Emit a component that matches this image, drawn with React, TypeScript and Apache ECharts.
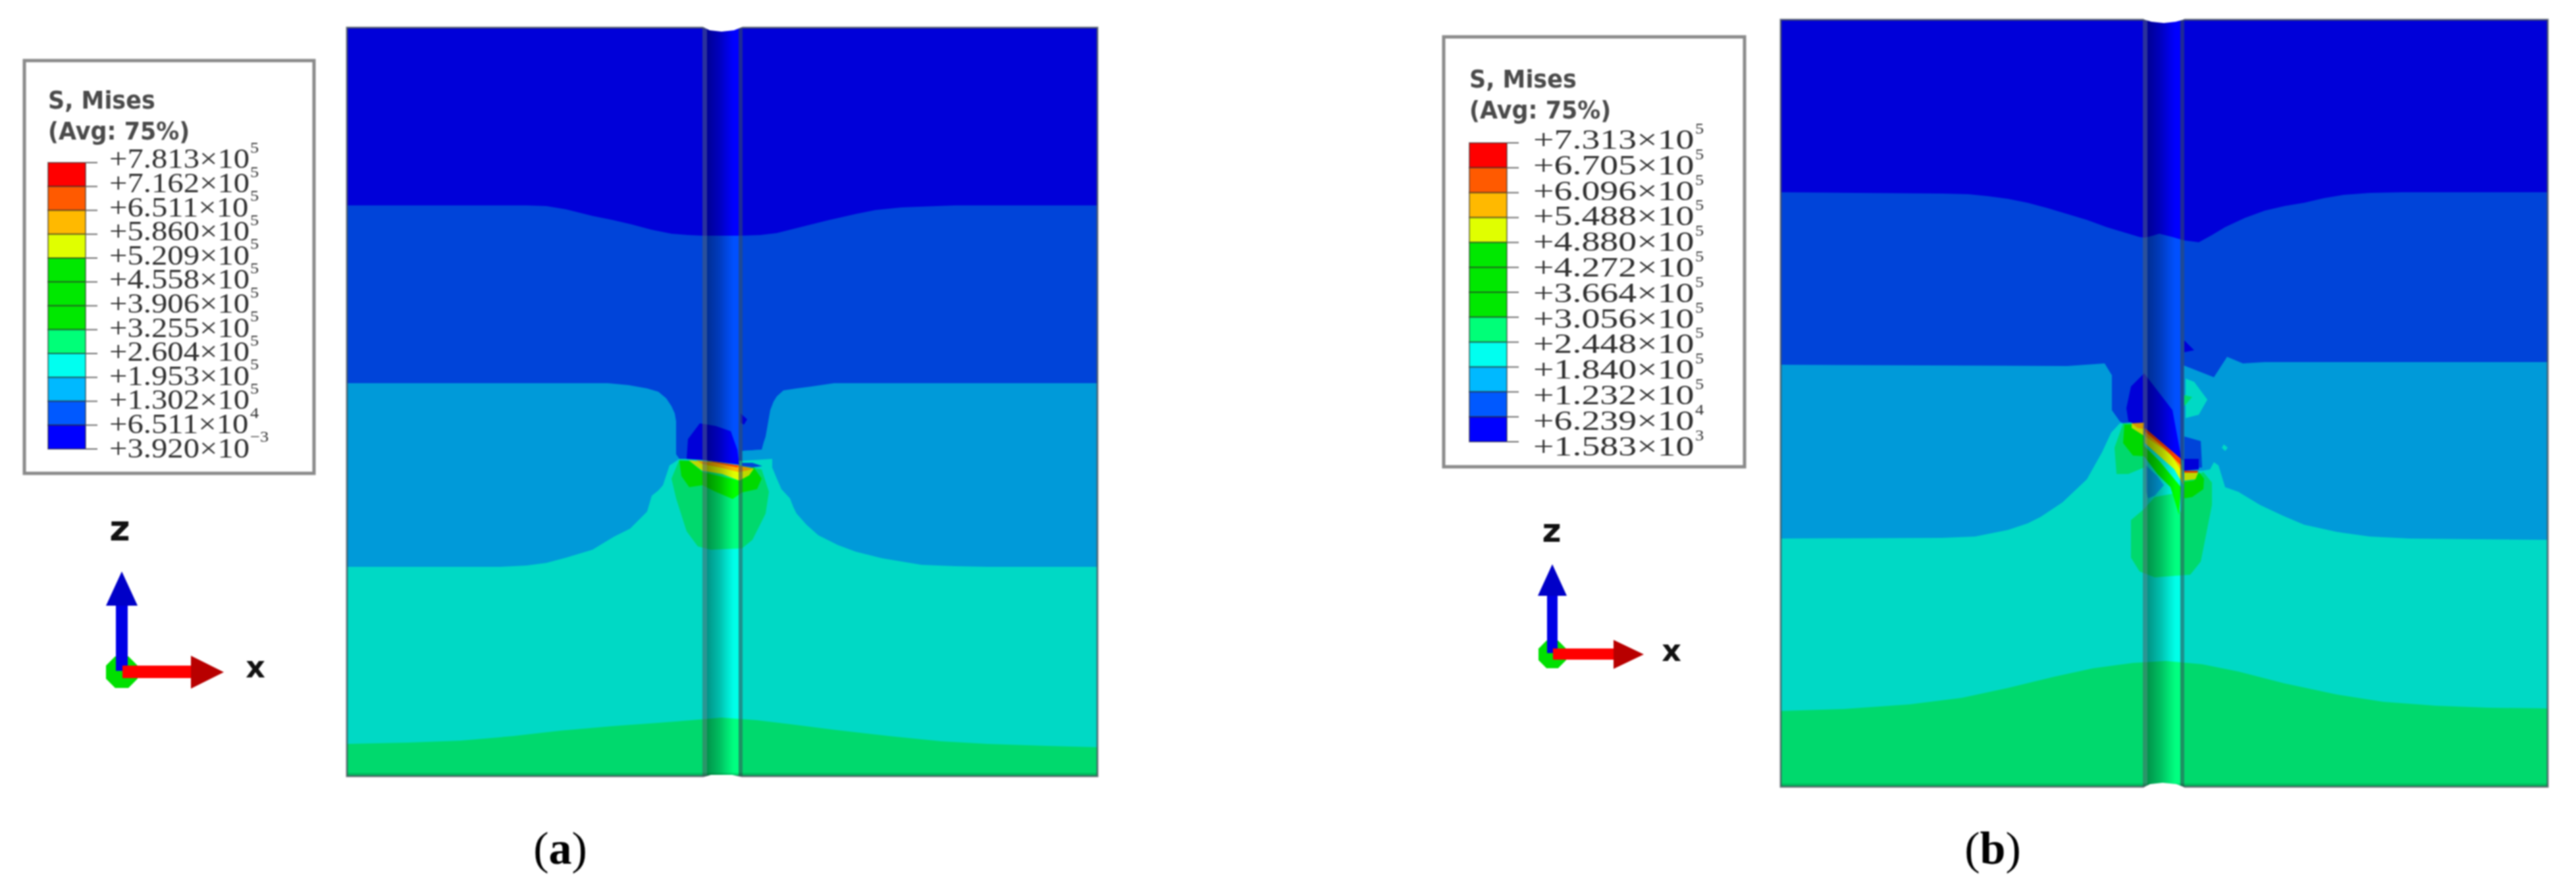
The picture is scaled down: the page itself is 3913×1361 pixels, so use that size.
import React, { useEffect, useRef } from "react";
import * as echarts from "echarts";

type P = [number, number];

// ---- legend data
const headerLines = ["S, Mises", "(Avg: 75%)"];
const mantissaA = ["+7.813", "+7.162", "+6.511", "+5.860", "+5.209", "+4.558", "+3.906", "+3.255", "+2.604", "+1.953", "+1.302", "+6.511", "+3.920"];
const exponentA = ["5", "5", "5", "5", "5", "5", "5", "5", "5", "5", "5", "4", "−3"];
const mantissaB = ["+7.313", "+6.705", "+6.096", "+5.488", "+4.880", "+4.272", "+3.664", "+3.056", "+2.448", "+1.840", "+1.232", "+6.239", "+1.583"];
const exponentB = ["5", "5", "5", "5", "5", "5", "5", "5", "5", "5", "5", "4", "3"];
const legendColors = ["#ff0000", "#ff5a00", "#ffb900", "#e0ff00", "#00e800", "#00e800", "#00e800", "#00ff78", "#00fff0", "#00b9ff", "#0059ff", "#0000ff"];

// ---- contour colours
const C1 = "#0000ff", C2 = "#0050ff", C3 = "#00b5ff", C4 = "#00ffe8", C5 = "#00ff80";
const GREEN = "#00ff00", YEL = "#e0ff00", ORG = "#ffb000", RED = "#ff4000", DBL = "#0000ff";

// ---- contour outlines, panel (a)
const a12: P[] = [[527, 312], [800, 312], [830, 313], [860, 318], [900, 328], [930, 334], [960, 341], [990, 349], [1020, 355], [1045, 357], [1067, 358], [1125, 358], [1155, 357], [1180, 354], [1200, 349], [1220, 344], [1260, 334], [1300, 325], [1330, 319], [1370, 315], [1450, 312], [1667, 312]];
const a23: P[] = [[527, 582], [923, 582], [955, 585], [983, 590], [1000, 595], [1012, 605], [1020, 617], [1025, 628], [1027, 640], [1027, 690], [1032, 697], [1127, 700], [1127, 685], [1157, 683], [1160, 672], [1163, 663], [1170, 623], [1175, 610], [1180, 602], [1190, 593], [1210, 590], [1233, 587], [1267, 582], [1667, 582]];
const a34: P[] = [[527, 861], [760, 861], [800, 859], [830, 855], [860, 847], [900, 835], [918, 824], [933, 815], [957, 803], [970, 790], [983, 777], [990, 753], [1000, 745], [1007, 737], [1012, 722], [1017, 707], [1032, 697], [1127, 700], [1173, 697], [1173, 710], [1180, 727], [1187, 743], [1200, 757], [1205, 770], [1210, 780], [1225, 797], [1243, 813], [1273, 828], [1300, 838], [1340, 848], [1400, 858], [1450, 860], [1500, 861], [1667, 861]];
const a45: P[] = [[527, 1130], [620, 1128], [700, 1125], [780, 1118], [850, 1110], [930, 1103], [1000, 1098], [1050, 1094], [1096, 1090], [1150, 1094], [1200, 1100], [1280, 1110], [1350, 1118], [1430, 1126], [1500, 1130], [1590, 1133], [1667, 1135]];
const aStrip: P[] = [[1127, 685], [1157, 683], [1173, 695], [1127, 694]];
const aLobe: P[] = [[1032, 698], [1020, 727], [1027, 757], [1043, 807], [1060, 830], [1080, 835], [1127, 833], [1143, 820], [1163, 780], [1168, 747], [1157, 713], [1143, 710]];
const aGreen: P[] = [[1032, 700], [1035, 723], [1047, 740], [1067, 737], [1087, 747], [1113, 758], [1127, 748], [1150, 743], [1157, 727], [1145, 710], [1123, 730], [1067, 717], [1047, 700]];
const aYellow: P[] = [[1046, 699], [1123, 708], [1145, 712], [1138, 722], [1123, 730], [1097, 720], [1067, 715], [1060, 710]];
const aOrange: P[] = [[1057, 699], [1123, 707], [1145, 712], [1133, 715], [1122, 717], [1093, 710], [1067, 705]];
const aRed: P[] = [[1070, 699], [1123, 707], [1120, 710], [1087, 703]];
const aBlue: P[] = [[1043, 697], [1045, 667], [1063, 643], [1087, 647], [1110, 655], [1120, 683], [1123, 706], [1070, 699]];
const aDot: P[] = [[1125, 628], [1135, 637], [1130, 645], [1125, 642]];
const aBlueStrip: P[] = [[1127, 703], [1143, 703], [1158, 708], [1143, 710], [1127, 708]];

// ---- contour outlines, panel (b)
const b12: P[] = [[2705, 292], [2950, 294], [2990, 295], [3020, 298], [3050, 302], [3080, 308], [3110, 316], [3140, 325], [3170, 334], [3200, 345], [3250, 360], [3258, 361], [3270, 358], [3280, 355], [3300, 360], [3317, 365], [3340, 368], [3360, 357], [3380, 345], [3410, 331], [3440, 320], [3470, 313], [3500, 308], [3530, 301], [3560, 296], [3600, 293], [3650, 292], [3870, 292]];
const b23: P[] = [[2705, 554], [3140, 556], [3197, 552], [3208, 570], [3208, 623], [3220, 640], [3317, 700], [3317, 555], [3363, 573], [3383, 542], [3407, 552], [3440, 550], [3870, 550]];
const b34: P[] = [[2705, 818], [2950, 817], [3000, 815], [3050, 805], [3080, 795], [3100, 785], [3133, 763], [3170, 728], [3193, 687], [3207, 657], [3220, 643], [3238, 642], [3317, 715], [3345, 715], [3357, 713], [3363, 702], [3370, 707], [3380, 740], [3400, 747], [3433, 767], [3467, 783], [3500, 797], [3550, 808], [3600, 815], [3660, 818], [3870, 820]];
const b45: P[] = [[2705, 1080], [2800, 1077], [2900, 1070], [2980, 1060], [3050, 1045], [3120, 1028], [3180, 1015], [3240, 1007], [3290, 1004], [3345, 1009], [3400, 1020], [3470, 1038], [3550, 1055], [3620, 1066], [3700, 1072], [3780, 1075], [3870, 1076]];
const bBlock: P[] = [[3318, 663], [3343, 670], [3345, 710], [3318, 713]];
const bTriangle: P[] = [[3318, 517], [3333, 532], [3318, 535]];
const bTeal: P[] = [[3320, 575], [3333, 580], [3353, 607], [3340, 630], [3320, 635]];
const bTealCore: P[] = [[3318, 600], [3330, 603], [3318, 617]];
const bSpeck: P[] = [[3378, 675], [3384, 680], [3380, 685], [3375, 680]];
const bLobeL: P[] = [[3225, 643], [3212, 680], [3215, 720], [3233, 720], [3257, 710], [3257, 643]];
const bLobeLow: P[] = [[3257, 773], [3237, 790], [3237, 847], [3250, 868], [3273, 877], [3327, 873], [3343, 853], [3360, 767], [3360, 733], [3347, 717], [3318, 730], [3313, 780], [3300, 750], [3273, 755]];
const bGreenL: P[] = [[3227, 645], [3225, 673], [3240, 692], [3257, 693], [3257, 662], [3238, 645]];
const bGreenMid: P[] = [[3257, 677], [3280, 700], [3313, 740], [3310, 782], [3297, 740], [3277, 720], [3257, 693]];
const bGreenR: P[] = [[3318, 732], [3333, 730], [3340, 717], [3348, 727], [3347, 743], [3330, 755], [3318, 757]];
const bYellowL: P[] = [[3238, 643], [3257, 643], [3257, 662], [3238, 650]];
const bOrangeL: P[] = [[3238, 643], [3257, 642], [3257, 652], [3247, 650]];
const bDarkBlue: P[] = [[3233, 640], [3230, 620], [3237, 587], [3257, 567], [3277, 593], [3300, 623], [3313, 693], [3313, 697], [3257, 650]];
const bYellowMid: P[] = [[3258, 653], [3313, 703], [3317, 737], [3303, 713], [3258, 673]];
const bOrangeMid: P[] = [[3258, 652], [3313, 698], [3315, 717], [3297, 690], [3258, 662]];
const bRedMid: P[] = [[3258, 650], [3313, 697], [3313, 707], [3287, 680], [3258, 655]];
const bNavyR: P[] = [[3318, 697], [3340, 697], [3340, 713], [3318, 715]];
const bRedR: P[] = [[3318, 715], [3339, 715], [3338, 718], [3318, 718]];
const bYellowR: P[] = [[3318, 718], [3339, 718], [3335, 728], [3318, 730]];
const bTealNotch: P[] = [[3260, 707], [3277, 723], [3287, 737], [3273, 753], [3263, 757], [3260, 747]];

// ---- triad glyphs
const triadA = { o: [185, 1021], zTip: 868, zBase: 920, zHalf: 9, zHead: 24, xEnd: 290, xTip: 340, xHead: 25, r: 24 };
const triadB = { o: [2358, 994], zTip: 857, zBase: 905, zHalf: 8, zHead: 22, xEnd: 2451, xTip: 2497, xHead: 22, r: 21 };

const rectPts = (x0: number, y0: number, x1: number, y1: number): P[] => [[x0, y0], [x1, y0], [x1, y1], [x0, y1]];
const toBottom = (curve: P[], bottom: number): P[] => [...curve, [curve[curve.length - 1][0], bottom], [curve[0][0], bottom]];

type Layer = { pts: P[]; fill: any; stroke?: string; lw?: number };
const layers: Layer[] = [];
const add = (pts: P[], fill: any, stroke?: string, lw?: number) => layers.push({ pts, fill, stroke, lw });

const grooveShade = (dark: number) =>
  new echarts.graphic.LinearGradient(0, 0, 1, 0, [
    { offset: 0, color: `rgba(0,0,0,${dark})` },
    { offset: 0.15, color: `rgba(0,0,0,${dark * 0.85})` },
    { offset: 0.4, color: `rgba(0,0,0,${dark * 0.6})` },
    { offset: 0.65, color: `rgba(0,0,0,${dark * 0.25})` },
    { offset: 0.85, color: "rgba(0,0,0,0)" },
    { offset: 1, color: "rgba(0,0,0,0)" },
  ]);

function panel(L: number, R: number, T: number, B: number, gL: number, gR: number, bands: P[][], notes: [P[], string][], notchTop: P[], notchBot: P[]) {
  add(rectPts(L, T, R, B), C1);
  [C2, C3, C4, C5].forEach((c, i) => add(toBottom(bands[i], B), c));
  notes.forEach(([p, c]) => add(p, c));
  add(rectPts(L, T, gL, B), "rgba(0,0,0,0.15)");
  add(rectPts(gR, T, R, B), "rgba(0,0,0,0.15)");
  add(rectPts(gL + 7, T, gR - 6, B), grooveShade(0.42));
  add(rectPts(gL, T, gL + 7, B), "rgba(70,80,90,0.6)");
  add(rectPts(gR - 6, T, gR, B), "rgba(50,70,80,0.6)");
  add(rectPts(L, B - 5, R, B), "rgba(0,0,0,0.12)");
  add(rectPts(L, T, R, B), "none", "rgba(70,80,90,0.75)", 3);
  add(notchTop, "#ffffff");
  add(notchBot, "#ffffff");
}

panel(527, 1667, 42, 1179, 1067, 1128, [a12, a23, a34, a45],
  [[aLobe, C5], [aGreen, GREEN], [aBlue, DBL], [aYellow, YEL], [aOrange, ORG], [aRed, RED], [aDot, DBL], [aStrip, C3], [aBlueStrip, C2]],
  [[1066, 39], [1130, 39], [1125, 42], [1115, 46], [1096, 48], [1078, 46], [1070, 42]],
  [[1066, 1183], [1130, 1183], [1125, 1180], [1112, 1177], [1080, 1177], [1070, 1180]]);

panel(2705, 3870, 30, 1195, 3255, 3318, [b12, b23, b34, b45],
  [[bLobeL, C5], [bLobeLow, C5], [bTealNotch, C3], [bGreenL, GREEN], [bGreenMid, GREEN], [bGreenR, GREEN], [bBlock, C2], [bTriangle, DBL], [bTeal, C4], [bTealCore, C5], [bSpeck, C4], [bDarkBlue, DBL], [bYellowL, YEL], [bOrangeL, ORG], [bYellowMid, YEL], [bOrangeMid, ORG], [bRedMid, RED], [bNavyR, DBL], [bRedR, RED], [bYellowR, YEL]],
  [[3254, 27], [3320, 27], [3316, 30], [3305, 33], [3287, 35], [3268, 33], [3258, 30]],
  [[3255, 1198], [3320, 1198], [3316, 1195], [3306, 1191], [3285, 1189], [3266, 1191], [3258, 1195]]);

// legend boxes
function legend(x0: number, y0: number, x1: number, y1: number, barL: number, barR: number, barT: number, barB: number) {
  add(rectPts(x0, y0, x1, y1), "#ffffff", "#8a8a8a", 5);
  const h = (barB - barT) / legendColors.length;
  legendColors.forEach((c, i) => {
    add(rectPts(barL, barT + i * h, barR, barT + (i + 1) * h), c, "rgba(40,40,40,0.55)", 2);
  });
  for (let i = 0; i <= legendColors.length; i++) {
    const y = barT + i * h;
    add(rectPts(barR, y - 1, barR + 18, y + 1), "#707070");
  }
}
legend(37, 92, 477, 719, 73, 130, 247, 682);
legend(2193, 56, 2650, 709, 2232, 2289, 217, 671);

function triad(t: typeof triadA) {
  const [ox, oy] = t.o;
  const r = t.r, k = r * 0.42;
  add([[ox - k, oy - r], [ox + k, oy - r], [ox + r, oy - k], [ox + r, oy + k], [ox + k, oy + r], [ox - k, oy + r], [ox - r, oy + k], [ox - r, oy - k]], "#00e000");
  add(rectPts(ox - t.zHalf, t.zBase, ox + t.zHalf, oy - 2), "#0000e6");
  add([[ox, t.zTip], [ox + t.zHead, t.zBase], [ox - t.zHead, t.zBase]], "#0000c8");
  add(rectPts(ox + 1, oy - t.zHalf - 1, t.xEnd, oy + t.zHalf), "#ff0000");
  add([[t.xEnd, oy - t.xHead], [t.xTip, oy], [t.xEnd, oy + t.xHead]], "#b80000");
}
triad(triadA);
triad(triadB);

// ---- texts
type T = { text: string; x: number; y: number; size: number; family: string; color: string; weight?: string; sx?: number; rich?: any; align?: string };
const texts: T[] = [];
const SERIF = "'Liberation Serif', serif";
const SANS = "'DejaVu Sans', sans-serif";

function legendText(hx: number, hy: number[], mx: number, sx: number, ex: number, y0: number, dy: number, man: string[], exp: string[]) {
  headerLines.forEach((s, i) => texts.push({ text: s, x: hx, y: hy[i], size: 38, family: SANS, color: "#4a4a4a", weight: "bold", sx: 0.92 }));
  man.forEach((m, i) => {
    const y = y0 + i * dy;
    texts.push({ text: m + "×10", x: mx, y, size: 42, family: SERIF, color: "#303030", sx });
    texts.push({ text: exp[i], x: ex, y: y - 17, size: 24, family: SERIF, color: "#303030", sx: 1.1 });
  });
}
legendText(73, [152, 199], 166, 1.16, 380, 241, 36.6, mantissaA, exponentA);
legendText(2232, [120, 167], 2329, 1.33, 2575, 212, 38.8, mantissaB, exponentB);

texts.push({ text: "z", x: 182, y: 802, size: 54, family: SANS, color: "#111", weight: "bold", align: "center" });
texts.push({ text: "x", x: 388, y: 1013, size: 46, family: SANS, color: "#111", weight: "bold", align: "center" });
texts.push({ text: "z", x: 2357, y: 806, size: 50, family: SANS, color: "#111", weight: "bold", align: "center" });
texts.push({ text: "x", x: 2539, y: 988, size: 46, family: SANS, color: "#111", weight: "bold", align: "center" });

const captionRich = { b: { fontFamily: SERIF, fontWeight: "bold", fontSize: 70, fill: "#000" } };
texts.push({ text: "({b|a})", x: 851, y: 1288, size: 70, family: SERIF, color: "#000", rich: captionRich, align: "center" });
texts.push({ text: "({b|b})", x: 3027, y: 1288, size: 70, family: SERIF, color: "#000", rich: captionRich, align: "center" });

export default function App() {
  const ref = useRef<HTMLDivElement>(null);
  useEffect(() => {
    document.body.style.margin = "0";
    const chart = echarts.init(ref.current!, undefined, { renderer: "svg" });
    chart.setOption({
      animation: false,
      backgroundColor: "#ffffff",
      grid: { left: 0, right: 0, top: 0, bottom: 0 },
      xAxis: { type: "value", min: 0, max: 3913, show: false },
      yAxis: { type: "value", min: 0, max: 1361, inverse: true, show: false },
      tooltip: { show: false },
      series: [
        {
          type: "custom",
          silent: true,
          clip: false,
          data: layers.map((_, i) => [i]),
          renderItem: (params: any, api: any) => {
            const l = layers[params.dataIndex];
            return {
              type: "polygon",
              shape: { points: l.pts.map((p) => api.coord(p)) },
              style: { fill: l.fill, stroke: l.stroke ?? "none", lineWidth: l.lw ?? 0 },
            };
          },
        },
        {
          type: "custom",
          silent: true,
          clip: false,
          data: texts.map((_, i) => [i]),
          renderItem: (params: any, api: any) => {
            const t = texts[params.dataIndex];
            const [x, y] = api.coord([t.x, t.y]);
            return {
              type: "text",
              x,
              y,
              scaleX: t.sx ?? 1,
              style: {
                text: t.text,
                fontSize: t.size,
                fontFamily: t.family,
                fontWeight: t.weight ?? "normal",
                fill: t.color,
                align: t.align ?? "left",
                verticalAlign: "middle",
                rich: t.rich,
              },
            };
          },
        },
      ],
    });
    return () => chart.dispose();
  }, []);
  return <div ref={ref} style={{ position: "absolute", left: 0, top: 0, width: 3913, height: 1361, filter: "blur(1px)" }} />;
}
